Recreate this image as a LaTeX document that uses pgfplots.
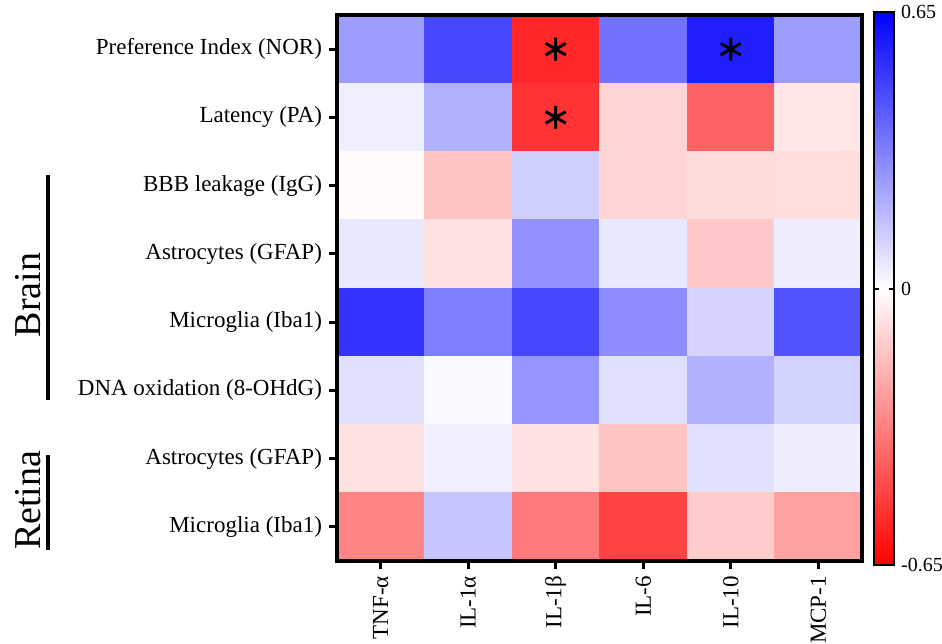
\documentclass[border=0pt]{standalone}
\usepackage{fontspec}
\setmainfont{Liberation Serif}
\usepackage{pgfplots}
\pgfplotsset{compat=1.18}
\begin{document}
\begin{tikzpicture}
\begin{axis}[
 at={(0,0)}, anchor=south west,
 scale only axis, width=262.5pt, height=273pt,
 xmin=0.5, xmax=6.5, ymin=0.5, ymax=8.5, y dir=reverse,
 enlargelimits=false, clip=false, axis on top,
 axis line style={line width=1.9pt},
 xtick={1,...,6}, ytick={1,...,8},
 xticklabels={TNF-α, IL-1α, IL-1β, IL-6, IL-10, MCP-1},
 yticklabels={Preference Index (NOR), Latency (PA), BBB leakage (IgG), Astrocytes (GFAP), Microglia (Iba1), DNA oxidation (8-OHdG), Astrocytes (GFAP), Microglia (Iba1)},
 x tick label style={rotate=90, anchor=east, font=\fontsize{11.5}{13}\selectfont},
 y tick label style={font=\fontsize{11.5}{13}\selectfont},
 tick align=outside, xtick pos=bottom, ytick pos=left,
 major tick length=4pt,
 tick style={line width=1.5pt, black},
 colormap={rwb}{rgb255=(255,0,0) rgb255=(255,255,255) rgb255=(0,0,255)},
 point meta min=-0.65, point meta max=0.65,
 colorbar,
 colorbar style={
   at={(parent axis.north east)}, anchor=north west, xshift=-2.5pt, yshift=1.5pt,
   width=10pt, height=276.5pt, axis on top,
   ytick={-0.65,0,0.65}, yticklabels={-0.65,0,0.65},
   axis line style={line width=1.2pt},
   tick align=inside, ytick pos=both, yticklabel pos=right, major tick length=2.5pt,
   tick style={line width=1pt, black},
   yticklabel style={font=\fontsize{10}{12}\selectfont},
 },
]
\addplot[matrix plot*, mesh/cols=6, point meta=explicit] table[meta=c] {
x y c
1 1 0.25
2 1 0.47
3 1 -0.55
4 1 0.36
5 1 0.57
6 1 0.25
1 2 0.04
2 2 0.20
3 2 -0.52
4 2 -0.11
5 2 -0.40
6 2 -0.06
1 3 -0.01
2 3 -0.15
3 3 0.12
4 3 -0.11
5 3 -0.09
6 3 -0.085
1 4 0.06
2 4 -0.077
3 4 0.28
4 4 0.06
5 4 -0.14
6 4 0.046
1 5 0.52
2 5 0.33
3 5 0.47
4 5 0.29
5 5 0.11
6 5 0.44
1 6 0.077
2 6 0.018
3 6 0.27
4 6 0.077
5 6 0.20
6 6 0.115
1 7 -0.077
2 7 0.04
3 7 -0.077
4 7 -0.15
5 7 0.077
6 7 0.043
1 8 -0.31
2 8 0.145
3 8 -0.34
4 8 -0.48
5 8 -0.13
6 8 -0.24
};
\addplot[only marks, mark=asterisk, mark size=5.8pt, line width=1.5pt, black] coordinates {(3,1) (5,1) (3,2)};
\draw[line width=2pt] (axis cs:-2.8,2.84) -- (axis cs:-2.8,6.14);
\draw[line width=2pt] (axis cs:-2.8,6.95) -- (axis cs:-2.8,8.34);
\node[rotate=90, font=\fontsize{19}{21}\selectfont] at (axis cs:-3.03,4.6) {Brain};
\node[rotate=90, font=\fontsize{19}{21}\selectfont] at (axis cs:-3.03,7.61) {Retina};
\end{axis}
\pgfresetboundingbox
\path (-168.5pt,-41pt) rectangle (302.5pt,280.5pt);
\end{tikzpicture}
\end{document}
